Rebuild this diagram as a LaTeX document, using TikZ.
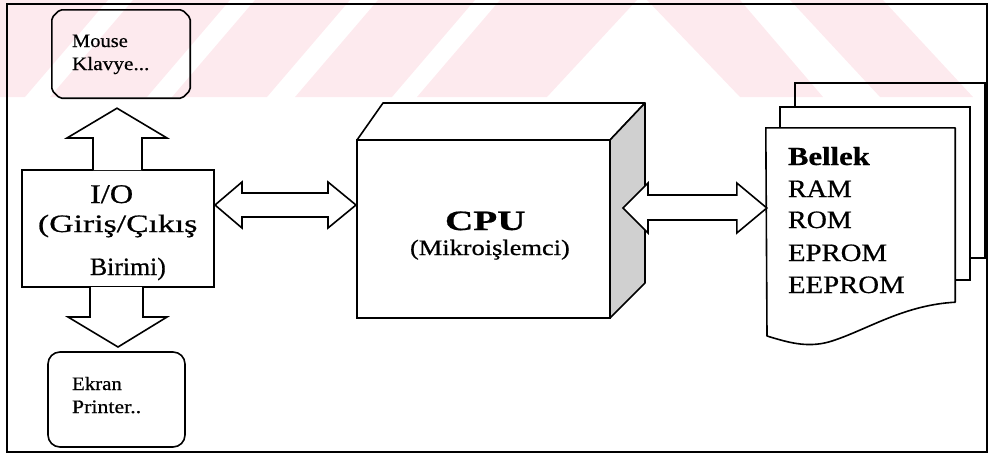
\documentclass[tikz,border=0pt]{standalone}
\usepackage{fontspec}
\usepackage{graphicx}
\setmainfont{Liberation Serif}
\usetikzlibrary{calc}
\definecolor{wmark}{RGB}{253,234,238}
\definecolor{stip}{RGB}{208,208,208}
\newcommand{\sx}[2]{\scalebox{#1}[1]{#2}}
\newcommand{\fs}[1]{\fontsize{#1}{#1}\selectfont\addfontfeature{FakeBold=0.6}}
\begin{document}
\begin{tikzpicture}[x=1pt,y=-1pt,
  box/.style={draw, line width=1.6pt, inner sep=0pt, outer sep=0pt},
  barrow/.style={draw, line width=1.6pt, fill=white, line join=miter},
  lbl/.style={anchor=base west, inner sep=0pt, outer sep=0pt}]
\useasboundingbox (0,0) rectangle (990,459);
% watermark band
\begin{scope}
\clip (0,0) rectangle (990,97);
\fill[wmark] (-100,97) -- (25,97) -- (108,0) -- (-17,0) -- cycle;
\fill[wmark] (50,97) -- (147,97) -- (230,0) -- (133,0) -- cycle;
\fill[wmark] (172,97) -- (267,97) -- (350,0) -- (255,0) -- cycle;
\fill[wmark] (295,97) -- (392,97) -- (475,0) -- (378,0) -- cycle;
\fill[wmark] (417,97) -- (547,97) -- (637,0) -- (500,0) -- cycle;
\fill[wmark] (647,0) -- (740,0) -- (823,97) -- (740,97) -- cycle;
\fill[wmark] (790,0) -- (883,0) -- (973,97) -- (880,97) -- cycle;
\end{scope}
% frame
\node[box, minimum width=980pt, minimum height=448pt] (frame) at (497,228) {};
% Mouse box (chamfered)
\node[inner sep=0pt, minimum width=138pt, minimum height=88pt] (mouse) at (121,54) {};
\draw[line width=1.6pt, rounded corners=2pt]
  ($(mouse.north west)+(8,0)$) -- ($(mouse.north east)+(-8,0)$) -- ($(mouse.north east)+(0,8)$)
  -- ($(mouse.south east)+(0,-8)$) -- ($(mouse.south east)+(-8,0)$) -- ($(mouse.south west)+(8,0)$)
  -- ($(mouse.south west)+(0,-8)$) -- ($(mouse.north west)+(0,8)$) -- cycle;
% I/O box
\node[box, fill=white, minimum width=192pt, minimum height=117pt] (io) at (118,228.5) {};
% Ekran box
\node[box, rounded corners=12pt, minimum width=137pt, minimum height=95pt] (ekran) at (116.5,399.5) {};
% CPU
\node[box, fill=white, minimum width=253pt, minimum height=178pt] (cpu) at (483.5,229) {};
\draw[line width=1.6pt, fill=white, line join=round] (cpu.north west) -- ($(cpu.north west)+(26,-37)$) -- ($(cpu.north east)+(35,-37)$) -- (cpu.north east) -- cycle;
\draw[line width=1.6pt, fill=stip, line join=round] (cpu.north east) -- ($(cpu.north east)+(35,-37)$) -- ($(cpu.south east)+(35,-35)$) -- (cpu.south east) -- cycle;
% memory pages
\node[box, minimum width=190pt, minimum height=175pt] (p3) at (890,170.5) {};
\node[box, fill=white, minimum width=190pt, minimum height=173pt] (p2) at (875,193.5) {};
\node[inner sep=0pt, minimum width=189pt, minimum height=174pt] (mem) at (860.5,215) {};
\draw[line width=1.6pt, fill=white, line join=round]
  (mem.north west) -- (mem.north east) -- (mem.south east)
  .. controls (905,305) and (870,328) .. (835,340)
  .. controls (810,349) and (790,343) .. (767,336) -- cycle;
% block arrows
\draw[barrow] ($(io.north)+(-25,0)$) -- ++(0,-32) -- ($(io.north)+(-51,-32)$)
  -- ($(mouse.south)+(-4,10)$) -- ($(io.north)+(49,-32)$) -- ($(io.north)+(24,-32)$)
  -- ($(io.north)+(24,0)$);
\draw[barrow] ($(io.south)+(-28,0)$) -- ++(0,30) -- ($(io.south)+(-50,30)$)
  -- ($(ekran.north)+(1.5,-5)$) -- ($(io.south)+(49,30)$) -- ($(io.south)+(25,30)$)
  -- ($(io.south)+(25,0)$);
\coordinate (aL) at ($(io.east)+(1,-23.5)$);
\coordinate (aR) at ($(cpu.west)+(-1,-24)$);
\draw[barrow] (aL) -- ($(aL)+(27,-23)$) -- ($(aL)+(27,-12)$) -- ($(aR)+(-28,-12)$)
  -- ($(aR)+(-28,-23)$) -- (aR) -- ($(aR)+(-28,23)$) -- ($(aR)+(-28,12)$)
  -- ($(aL)+(27,12)$) -- ($(aL)+(27,23)$) -- cycle;
\coordinate (bL) at ($(cpu.east)+(13,-21)$);
\coordinate (bR) at ($(mem.west)+(1,-7)$);
\draw[barrow] (bL) -- ($(bL)+(25,-25)$) -- ($(bL)+(25,-13)$) -- ($(bR)+(-30,-13)$)
  -- ($(bR)+(-30,-25)$) -- (bR) -- ($(bR)+(-30,25)$) -- ($(bR)+(-30,12)$)
  -- ($(bL)+(25,12)$) -- ($(bL)+(25,25)$) -- cycle;
% texts
\node[lbl, font=\fs{19}] (t1) at (72,47) {\sx{1.08}{Mouse}};
\node[lbl, font=\fs{19}] (t2) at (72,70) {\sx{1.12}{Klavye...}};
\node[lbl, font=\fs{19}] (t3) at (72,390) {\sx{1.1}{Ekran}};
\node[lbl, font=\fs{19}] (t4) at (72,413) {\sx{1.15}{Printer..}};
\node[lbl, font=\fs{27}] (t5) at (90,203) {\sx{1.2}{I/O}};
\node[lbl, font=\fs{25}] (t6) at (38,232) {\sx{1.35}{(Giriş/Çıkış}};
\node[lbl, font=\fs{25}] (t7) at (90,275) {\sx{1.03}{Birimi)}};
\node[lbl, font=\bfseries\fs{28}] (t8) at (445,230) {\sx{1.4}{CPU}};
\node[lbl, font=\fs{22}] (t9) at (410,255) {\sx{1.2}{(Mikroişlemci)}};
\node[lbl, font=\bfseries\fs{26}] (t10) at (788,165) {\sx{1.18}{Bellek}};
\node[lbl, font=\fs{25}] (t11) at (788,197) {\sx{1.12}{RAM}};
\node[lbl, font=\fs{25}] (t12) at (788,228) {\sx{1.12}{ROM}};
\node[lbl, font=\fs{25}] (t13) at (788,261) {\sx{1.15}{EPROM}};
\node[lbl, font=\fs{25}] (t14) at (788,293) {\sx{1.15}{EEPROM}};
\end{tikzpicture}
\end{document}
